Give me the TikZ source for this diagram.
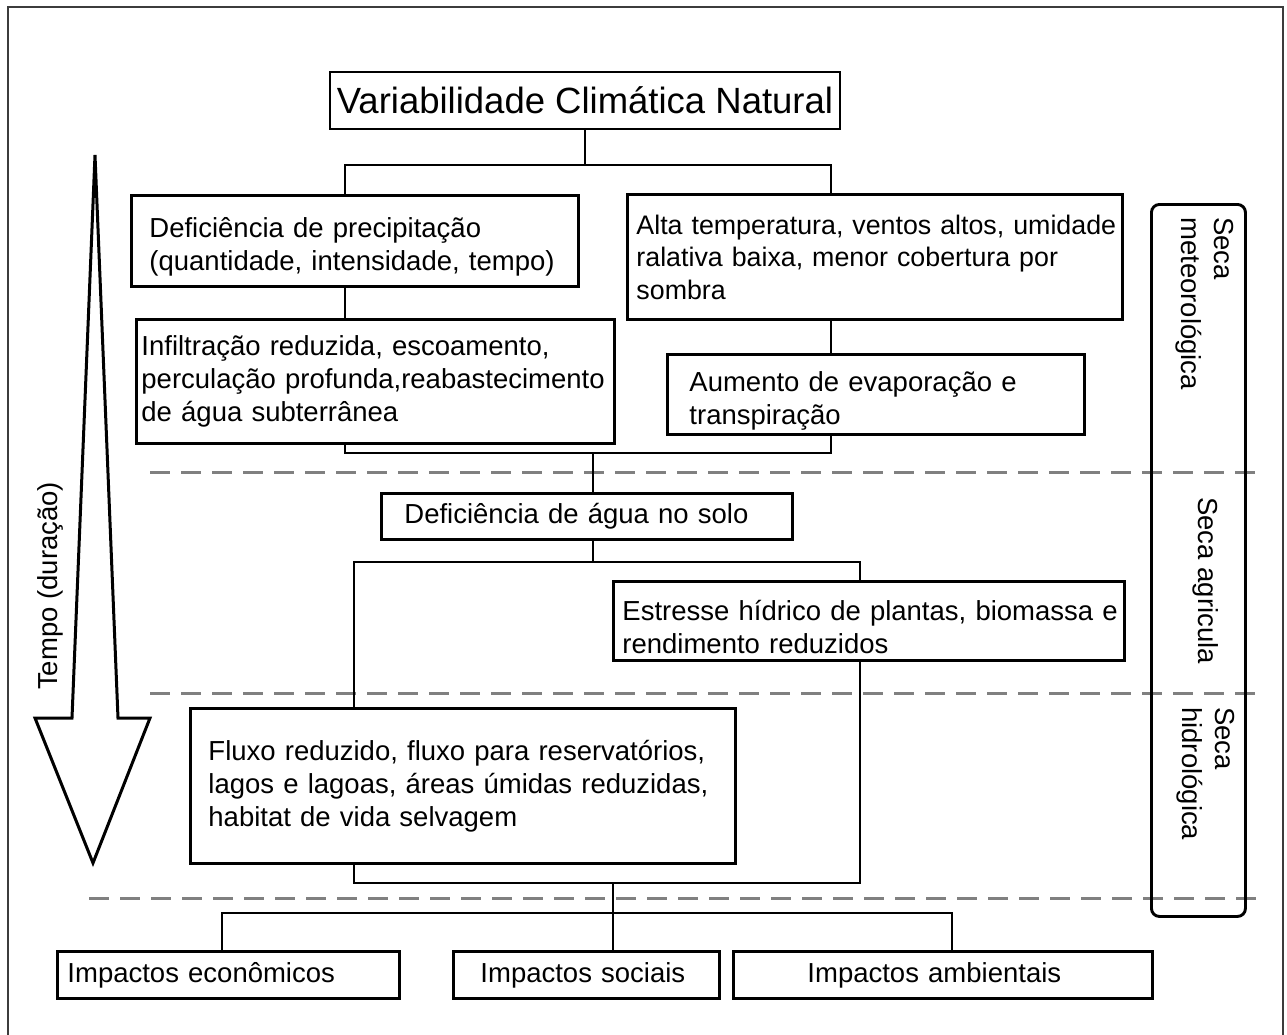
\documentclass[tikz,border=0pt]{standalone}
\usepackage{fontspec}
\setmainfont{Liberation Sans}
\definecolor{dashgray}{RGB}{128,128,128}
\definecolor{framegray}{RGB}{60,60,60}
\newcommand\myln[1]{\mbox{#1}}
\newcommand\mytop{\rule{0pt}{32pt}}
\begin{document}
\begin{tikzpicture}[x=1pt,y=-1pt,
  txt/.style={font=\fontsize{27.5}{33}\selectfont},
  box/.style={txt, draw=black, line width=2.9pt, fill=white, rectangle,
              anchor=north west, align=left, inner ysep=0pt},
  conn/.style={line width=2.9pt, black, line cap=rect},
  sepline/.style={draw=dashgray, line width=3pt, dash pattern=on 20pt off 11pt},
  lbl/.style={txt, inner sep=0pt}]
\useasboundingbox (0,0) rectangle (1287,1034);
\fill[white] (0,0) rectangle (1287,1034);
% frame
\draw[framegray, line width=2.5pt] (8,1045) -- (8,7) -- (1283,7) -- (1283,1045);

% separators
\draw[sepline] (150,472) -- (1262,472);
\draw[sepline] (150,693) -- (1262,693);
\draw[sepline] (89,898) -- (1262,898);

% boxes
\node[draw=black, line width=2.9pt, fill=white, minimum width=510pt, minimum height=57pt,
      inner sep=0pt, font=\fontsize{36.5}{40}\selectfont] (title) at (585,100.5)
      {Variabilidade Climática Natural};
\node[box, minimum width=447pt, minimum height=91pt, inner xsep=18pt, text width=411pt] (defic) at (130,194)
  {\myln{\mytop Deficiência de precipitação}\\\myln{(quantidade, intensidade, tempo)}};
\node[box, minimum width=478pt, minimum height=124pt, inner xsep=5pt, text width=468pt] (infil) at (135,318)
  {\myln{Infiltração reduzida, escoamento,}\\\myln{perculação profunda,reabastecimento}\\\myln{de água subterrânea}};
\node[box, minimum width=495pt, minimum height=125pt, inner xsep=9pt, text width=477pt,
      font=\fontsize{26.8}{32.5}\selectfont] (alta) at (626,193)
  {\myln{Alta temperatura, ventos altos, umidade}\\\myln{ralativa baixa, menor cobertura por}\\\myln{sombra}};
\node[box, minimum width=417pt, minimum height=80pt, inner xsep=22pt, text width=373pt] (aum) at (666,353)
  {\myln{\mytop Aumento de evaporação e}\\\myln{transpiração}};
\node[box, minimum width=411pt, minimum height=46pt, inner xsep=23pt, text width=365pt] (solo) at (380,492)
  {\myln{Deficiência de água no solo}};
\node[box, minimum width=511pt, minimum height=79pt, inner xsep=9pt, text width=493pt] (estr) at (612,580)
  {\myln{\mytop Estresse hídrico de plantas, biomassa e}\\\myln{rendimento reduzidos}};
\node[box, minimum width=545pt, minimum height=155pt, inner xsep=18pt, text width=509pt] (fluxo) at (189,707)
  {\myln{Fluxo reduzido, fluxo para reservatórios,}\\\myln{lagos e lagoas, áreas úmidas reduzidas,}\\\myln{habitat de vida selvagem}};
\node[box, minimum width=342pt, minimum height=47pt, inner xsep=10pt, text width=322pt] (econ) at (56,950)
  {\myln{Impactos econômicos}};
\node[box, minimum width=266pt, minimum height=47pt, inner xsep=27pt, text width=212pt] (soc) at (452,950)
  {\myln{Impactos sociais}};
\node[box, minimum width=419pt, minimum height=47pt, inner xsep=74pt, text width=271pt] (amb) at (732,950)
  {\myln{Impactos ambientais}};

% connectors
\coordinate (a1) at (345,165);
\coordinate (a2) at (831,165);
\draw[conn] (title.south) -- (title.south |- a1);
\draw[conn] (a1) -- (a2);
\draw[conn] (a1) -- (a1 |- defic.north);
\draw[conn] (a2) -- (a2 |- alta.north);
\draw[conn] (a1 |- defic.south) -- (a1 |- infil.north);
\draw[conn] (a2 |- alta.south) -- (a2 |- aum.north);
\coordinate (b) at (593,453);
\draw[conn] (a1 |- infil.south) |- (b) -| (a2 |- aum.south);
\draw[conn] (b) -- (b |- solo.north);
\coordinate (c1) at (354,562);
\coordinate (c2) at (860,562);
\draw[conn] (b |- solo.south) -- (b |- c1);
\draw[conn] (c1) -- (c2);
\draw[conn] (c2) -- (c2 |- estr.north);
\coordinate (d1) at (354,883);
\coordinate (d2) at (860,883);
\coordinate (d) at (613,883);
\draw[conn] (c2 |- estr.south) -- (d2);
\draw[conn] (c1) -- (c1 |- fluxo.north);
\draw[conn] (c1 |- fluxo.south) -- (d1) -- (d2);
\coordinate (e1) at (222,913);
\coordinate (e2) at (952,913);
\coordinate (e) at (613,913);
\draw[conn] (d) -- (e);
\draw[conn] (e1) -- (e2);
\draw[conn] (e1) -- (e1 |- econ.north);
\draw[conn] (e) -- (e |- soc.north);
\draw[conn] (e2) -- (e2 |- amb.north);

% side bracket
\node[draw=black, line width=2.9pt, rounded corners=8pt, minimum width=94pt, minimum height=712pt,
      anchor=north west, inner sep=0pt] (brk) at (1150,203) {};
\node[lbl, rotate=-90, anchor=west, align=left] (smet) at (1205,217) {Seca\\meteorológica};
\node[lbl, rotate=-90, anchor=west] (sagr) at (1206,497) {Seca agricula};
\node[lbl, rotate=-90, anchor=west, align=left] (shid) at (1206,707) {Seca\\hidrológica};

% time arrow
\draw[black, line width=3pt, line join=miter, fill=white]
  (95,155) -- (118,718) -- (150,718) -- (93,863) -- (35,718) -- (72,718) -- cycle;
\node[lbl, rotate=90, anchor=west] (tempo) at (50,690) {Tempo (duração)};
\end{tikzpicture}
\end{document}
